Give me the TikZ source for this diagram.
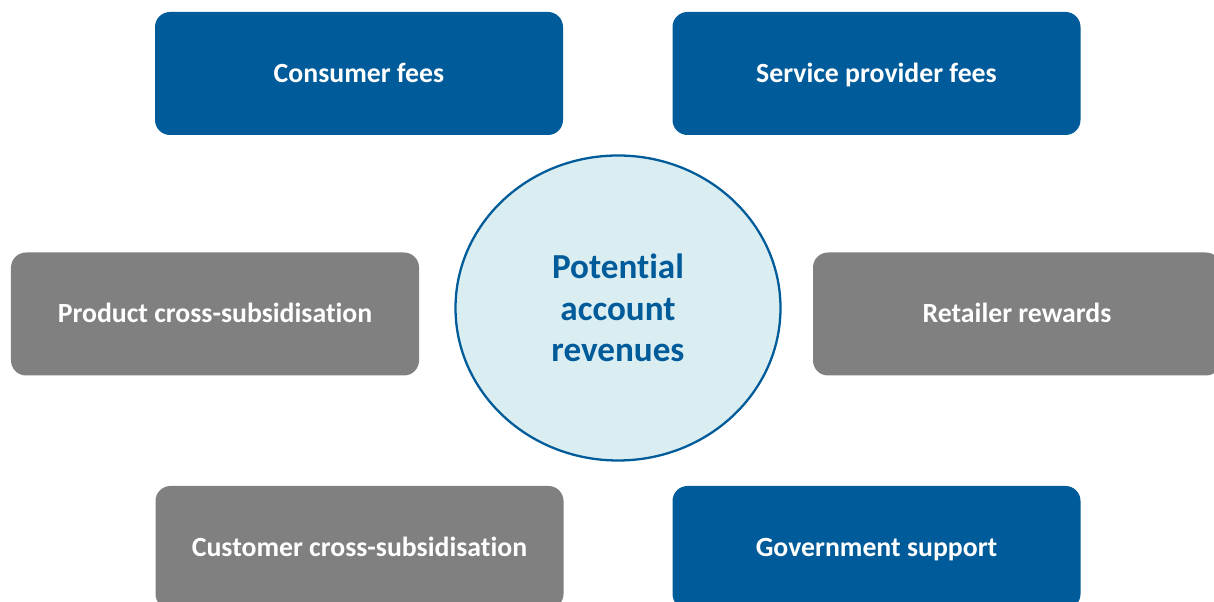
\documentclass[tikz,border=0pt]{standalone}
\usepackage{fontspec}
\setmainfont{Carlito}[Ligatures=NoCommon]
\usetikzlibrary{positioning,shapes.geometric}

\definecolor{revblue}{HTML}{005B9A}
\definecolor{revgrey}{HTML}{808080}
\definecolor{revfill}{HTML}{DAEDF0}

\begin{document}
\begin{tikzpicture}[on grid,
  source/.style={rectangle,rounded corners=0.3cm,minimum width=8.16cm,
    minimum height=2.46cm,text=white,text height=10.2pt,text depth=0pt,
    font=\fontsize{15.8}{18}\selectfont\bfseries},
  fee/.style={source,fill=revblue},
  other/.style={source,fill=revgrey},
  hub/.style={ellipse,draw=revblue,line width=1.3pt,fill=revfill,
    minimum width=6.5cm,minimum height=6.1cm,text=revblue,align=center,
    font=\fontsize{20}{23.7}\selectfont\bfseries}]
\useasboundingbox (0,0) rectangle (24.28,12.04);
\clip (0,0) rectangle (24.28,12.04);
\node[hub] (pot) at (12.36,5.88) {Potential\\account\\revenues};
% blue boxes above and below, grey ones around
\node[fee] (consumer) [above left=4.69cm and 5.18cm of pot] {Consumer fees};
\node[fee] (provider) [above right=4.69cm and 5.17cm of pot] {Service provider fees};
\node[other] (product) [below left=0.12cm and 8.06cm of pot] {Product cross-subsidisation};
\node[other] (retailer) [below right=0.12cm and 7.98cm of pot] {Retailer rewards};
\node[other] (customer) [below left=4.79cm and 5.17cm of pot] {Customer cross-subsidisation};
\node[fee] (government) [below right=4.79cm and 5.17cm of pot] {Government support};
\end{tikzpicture}
\end{document}
